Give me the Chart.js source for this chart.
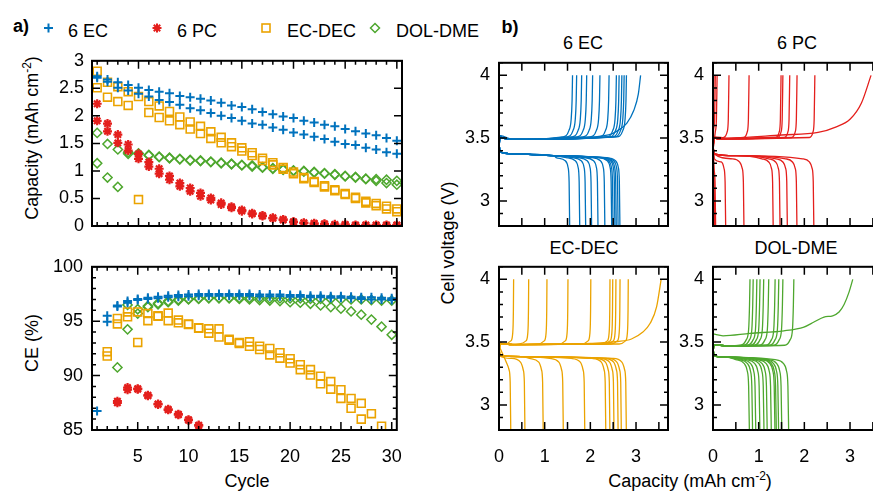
<!DOCTYPE html>
<html>
<head>
<meta charset="utf-8">
<script src="https://cdn.jsdelivr.net/npm/chart.js@4/dist/chart.umd.min.js"></script>
<style>
  body { margin: 0; width: 873px; height: 491px; overflow: hidden; background: #fff; position: relative;
         font-family: "Liberation Sans", Arial, sans-serif; }
  canvas { position: absolute; }
  .t { position: absolute; font-size: 18px; line-height: 1; white-space: nowrap; color: #000;
       transform: translate(-50%, -50%); }
  .v { transform: translate(-50%, -50%) rotate(-90deg); }
  .b { font-weight: bold; }
  sup { font-size: 12px; vertical-align: 7px; line-height: 0; }
</style>
</head>
<body>
<svg style="position:absolute;left:0;top:0" width="873" height="60">
  <g stroke="#0072bd" stroke-width="2"><line x1="44" y1="28" x2="53" y2="28"/><line x1="48.5" y1="23.5" x2="48.5" y2="32.5"/></g>
  <g stroke="#e41f1c" stroke-width="2"><line x1="152.5" y1="28" x2="161.5" y2="28"/><line x1="157" y1="23.5" x2="157" y2="32.5"/><line x1="153.8" y1="24.8" x2="160.2" y2="31.2"/><line x1="153.8" y1="31.2" x2="160.2" y2="24.8"/></g>
  <rect x="262" y="24" width="8" height="8" fill="none" stroke="#eba300" stroke-width="1.6"/>
  <path d="M375 23.5 L379.5 28 L375 32.5 L370.5 28 Z" fill="none" stroke="#4ea72e" stroke-width="1.5"/>
</svg>
<div class="t b" style="left:21px;top:26px">a)</div>
<div class="t b" style="left:510px;top:27px">b)</div>
<div class="t" style="left:68px;top:31px;transform:translate(0,-50%)">6 EC</div>
<div class="t" style="left:177px;top:31px;transform:translate(0,-50%)">6 PC</div>
<div class="t" style="left:287px;top:31px;transform:translate(0,-50%)">EC-DEC</div>
<div class="t" style="left:396px;top:31px;transform:translate(0,-50%)">DOL-DME</div>
<div class="t" style="left:583px;top:43px">6 EC</div>
<div class="t" style="left:797px;top:43px">6 PC</div>
<div class="t" style="left:584px;top:248px">EC-DEC</div>
<div class="t" style="left:796px;top:248px">DOL-DME</div>
<div class="t" style="left:247px;top:481px">Cycle</div>
<div class="t" style="left:690px;top:481px">Capacity (mAh cm<sup>-2</sup>)</div>
<div class="t v" style="left:32px;top:138px">Capacity (mAh cm<sup>-2</sup>)</div>
<div class="t v" style="left:32px;top:343px">CE (%)</div>
<div class="t v" style="left:448px;top:243px">Cell voltage (V)</div>
<script>
// ---- panel a data (two points per cycle for each cell) ----
const cycles = [1, 2, 3, 4, 5, 6, 7, 8, 9, 10, 11, 12, 13, 14, 15, 16, 17, 18, 19, 20, 21, 22, 23, 24, 25, 26, 27, 28, 29, 30];

const capEcA = [2.69, 2.66, 2.61, 2.56, 2.51, 2.47, 2.44, 2.41, 2.36, 2.34, 2.31, 2.28, 2.24, 2.19, 2.16, 2.12, 2.07, 2.03, 1.99, 1.96, 1.91, 1.88, 1.84, 1.81, 1.76, 1.72, 1.68, 1.65, 1.60, 1.55];
const capEcB = [2.72, 2.62, 2.51, 2.46, 2.40, 2.35, 2.29, 2.25, 2.20, 2.14, 2.10, 2.05, 2.00, 1.96, 1.91, 1.86, 1.84, 1.79, 1.75, 1.70, 1.66, 1.62, 1.58, 1.53, 1.49, 1.47, 1.42, 1.39, 1.34, 1.31];
const capPcA = [2.22, 1.86, 1.66, 1.48, 1.31, 1.16, 1.04, 0.91, 0.78, 0.69, 0.60, 0.51, 0.42, 0.35, 0.29, 0.23, 0.19, 0.15, 0.12, 0.08, 0.06, 0.05, 0.04, 0.03, 0.03, 0.02, 0.02, 0.02, 0.02, 0.02];
const capPcB = [1.91, 1.72, 1.51, 1.37, 1.22, 1.08, 0.95, 0.84, 0.72, 0.63, 0.54, 0.47, 0.39, 0.33, 0.27, 0.22, 0.18, 0.14, 0.11, 0.07, 0.05, 0.04, 0.03, 0.02, 0.02, 0.01, 0.01, 0.01, 0.01, 0.01];
const capEdA = [2.81, 2.61, 2.53, 2.44, 2.35, 2.26, 2.18, 2.08, 1.98, 1.89, 1.81, 1.71, 1.61, 1.51, 1.42, 1.33, 1.23, 1.15, 1.06, 0.98, 0.88, 0.81, 0.73, 0.66, 0.59, 0.52, 0.45, 0.41, 0.36, 0.31];
const capEdB = [2.51, 2.34, 2.26, 2.19, 0.48, 2.06, 1.97, 1.91, 1.84, 1.76, 1.68, 1.59, 1.51, 1.44, 1.36, 1.28, 1.19, 1.11, 1.03, 0.95, 0.86, 0.79, 0.71, 0.64, 0.57, 0.50, 0.42, 0.37, 0.31, 0.26];
const capDolA = [1.69, 1.49, 1.39, 1.34, 1.31, 1.29, 1.26, 1.24, 1.22, 1.20, 1.19, 1.17, 1.15, 1.13, 1.11, 1.10, 1.07, 1.05, 1.03, 1.01, 1.00, 0.98, 0.96, 0.94, 0.91, 0.89, 0.86, 0.85, 0.84, 0.82];
const capDolB = [1.14, 0.88, 0.71, 1.31, 1.32, 1.28, 1.25, 1.23, 1.21, 1.19, 1.18, 1.16, 1.14, 1.12, 1.10, 1.08, 1.06, 1.04, 1.02, 1.00, 0.99, 0.97, 0.95, 0.93, 0.90, 0.88, 0.85, 0.82, 0.78, 0.75];

const ceEcA = [86.75, 95.5, 96.45, 96.85, 97.05, 97.15, 97.25, 97.35, 97.4, 97.45, 97.5, 97.5, 97.5, 97.5, 97.5, 97.5, 97.45, 97.45, 97.45, 97.4, 97.4, 97.35, 97.35, 97.3, 97.3, 97.25, 97.2, 97.2, 97.15, 97.1];
const ceEcB = [null, 94.95, 96.35, 96.7, 96.95, 97.05, 97.1, 97.2, 97.25, 97.3, 97.35, 97.35, 97.35, 97.35, 97.35, 97.35, 97.3, 97.3, 97.3, 97.25, 97.25, 97.2, 97.2, 97.15, 97.15, 97.1, 97.05, 97.0, 97.0, 96.95];
const cePcA = [null, null, 87.5, 88.9, 88.75, 88.15, 87.35, 86.85, 86.4, 85.9, 85.4, null, null, null, null, null, null, null, null, null, null, null, null, null, null, null, null, null, null, null];
const cePcB = [null, null, 87.65, 88.7, 88.8, 88.2, 87.4, 86.9, 86.45, 85.95, 85.45, null, null, null, null, null, null, null, null, null, null, null, null, null, null, null, null, null, null, null];
const ceEdA = [null, 92.2, 95.25, 95.85, 95.85, 95.7, 95.5, 95.75, 95.1, 94.75, 94.4, 94.3, 94.3, 93.35, 93.05, 93.1, 92.7, 92.5, 92.1, 91.55, 91.0, 90.55, 89.95, 89.45, 88.7, 87.9, 87.45, 86.5, 85.35, null];
const ceEdB = [null, 91.8, 94.75, 95.4, 93.05, 95.05, 95.45, 95.05, 94.85, 94.7, 94.35, 93.9, 93.55, 93.25, 92.95, 92.7, 92.4, 91.9, 91.6, 91.15, 90.55, 90.05, 89.25, 88.75, 87.9, 87.0, 86.0, null, null, null];
const ceDolA = [null, null, 90.75, 94.25, 95.7, 96.3, 96.55, 96.75, 96.9, 97.0, 97.05, 97.1, 97.1, 97.1, 97.05, 97.0, 96.95, 96.9, 96.85, 96.75, 96.7, 96.6, 96.45, 96.3, 96.15, 95.9, 95.6, 95.15, 94.5, 93.75];
const ceDolB = [null, null, null, 96.5, 96.1, 96.4, 96.65, 96.85, 97.0, 97.05, 97.1, 97.15, 97.15, 97.15, 97.15, 97.15, 97.15, 97.1, 97.1, 97.1, 97.1, 97.05, 97.05, 97.05, 97.0, 97.0, 97.0, 96.95, 96.9, 96.9];

// ---- panel b data: capacity where each charge reaches 4 V / each discharge falls off ----
const ecChargeEnd = [1.61, 1.70, 1.81, 1.92, 2.05, 2.21, 2.41, 2.57, 2.63, 2.69, 2.74, 2.79];
const ecDischargeEnd = [1.55, 1.77, 1.90, 2.03, 2.17, 2.32, 2.47, 2.50, 2.54, 2.57, 2.61, 2.65];
const ecFirstCharge = [[0, 3.42], [0.03, 3.52], [0.3, 3.49], [1.5, 3.50], [2.4, 3.525], [2.6, 3.56], [2.8, 3.62], [2.95, 3.72], [3.05, 3.85], [3.10, 4.0]];

const pcChargeEnd = [0.02, 0.05, 0.09, 0.35, 0.79, 1.49, 1.53, 1.68, 1.84, 2.23];
const pcDischargeEnd = [0.02, 0.04, 0.06, 0.28, 0.68, 1.32, 1.47, 1.63, 1.84, 2.21];
const pcFirstCharge = [[0, 3.40], [0.03, 3.51], [0.3, 3.50], [1.5, 3.525], [2.3, 3.545], [2.7, 3.59], [3.0, 3.65], [3.25, 3.78], [3.46, 4.0]];

const edChargeEnd = [0.32, 0.65, 1.05, 1.51, 2.01, 2.43, 2.49, 2.56, 2.65, 2.83];
const edDischargeEnd = [0.26, 0.57, 0.97, 1.41, 1.88, 2.34, 2.43, 2.52, 2.61, 2.68, 2.79];
const edFirstCharge = [[0, 3.40], [0.03, 3.49], [0.5, 3.48], [2.0, 3.49], [2.6, 3.505], [2.9, 3.525], [3.15, 3.58], [3.31, 3.65], [3.45, 3.78], [3.55, 4.0]];

const dolChargeEnd = [0.81, 0.88, 0.96, 1.03, 1.11, 1.22, 1.36, 1.44, 1.53, 1.77];
const dolDischargeEnd = [0.80, 0.87, 0.94, 1.03, 1.12, 1.19, 1.28, 1.36, 1.39, 1.44, 1.51, 1.66];
const dolFirstCharge = [[0, 3.565], [0.22, 3.55], [0.81, 3.57], [1.55, 3.59], [1.99, 3.62], [2.21, 3.66], [2.43, 3.70], [2.62, 3.71], [2.76, 3.74], [2.87, 3.80], [2.98, 3.90], [3.06, 4.0]];

// curve shapes: start of the curve, and the end relative to where it stops
const shapes = {
  ec:  { cs: [[0, 3.40], [0.02, 3.52], [0.08, 3.50], [0.4, 3.49]], ck: [[-0.22, 3.51], [-0.08, 3.56], [-0.03, 3.65], [-0.01, 3.8], [0, 4.0]],
         ds: [[0, 3.48], [0.02, 3.39], [0.3, 3.375], [1.2, 3.36]], dk: [[-0.3, 3.345], [-0.1, 3.32], [-0.04, 3.27], [-0.015, 3.15], [0, 2.7]] },
  pc:  { cs: [[0, 3.40], [0.02, 3.50], [0.1, 3.495]], ck: [[-0.12, 3.505], [-0.04, 3.55], [-0.015, 3.65], [0, 4.0]],
         ds: [[0, 3.46], [0.02, 3.375], [0.5, 3.36]], dk: [[-0.25, 3.335], [-0.1, 3.31], [-0.04, 3.26], [-0.015, 3.15], [0, 2.7]] },
  ed:  { cs: [[0, 3.40], [0.02, 3.49], [0.3, 3.48]], ck: [[-0.2, 3.485], [-0.06, 3.51], [-0.02, 3.57], [-0.005, 3.75], [0, 4.0]],
         ds: [[0, 3.47], [0.02, 3.39], [0.5, 3.385]], dk: [[-0.3, 3.37], [-0.1, 3.34], [-0.04, 3.28], [-0.015, 3.18], [0, 2.7]] },
  dol: { cs: [[0, 3.40], [0.02, 3.48], [0.3, 3.47]], ck: [[-0.2, 3.475], [-0.08, 3.52], [-0.03, 3.6], [-0.01, 3.8], [0, 4.0]],
         ds: [[0, 3.47], [0.02, 3.39], [0.3, 3.38]], dk: [[-0.3, 3.36], [-0.12, 3.33], [-0.05, 3.27], [-0.02, 3.15], [0, 2.7]] },
};

const BLUE = '#0072bd', RED = '#e41f1c', ORANGE = '#eba300', GREEN = '#4ea72e';

Chart.defaults.font.family = "'Liberation Sans', Arial, sans-serif";
Chart.defaults.font.size = 18;
Chart.defaults.color = '#000';

// box with inward ticks on all four sides (gnuplot style)
const frame = {
  id: 'frame',
  afterDatasetsDraw(chart, args, o) {
    const { ctx, chartArea: a, scales: { x, y } } = chart;
    ctx.save();
    ctx.strokeStyle = '#000';
    ctx.lineWidth = 1.5;
    ctx.beginPath();
    const tick = (vals, len, horiz) => vals.forEach(v => {
      if (horiz) {
        const p = x.getPixelForValue(v);
        ctx.moveTo(p, a.bottom); ctx.lineTo(p, a.bottom - len);
        ctx.moveTo(p, a.top); ctx.lineTo(p, a.top + len);
      } else {
        const p = y.getPixelForValue(v);
        ctx.moveTo(a.left, p); ctx.lineTo(a.left + len, p);
        ctx.moveTo(a.right, p); ctx.lineTo(a.right - len, p);
      }
    });
    tick(o.xMajor || [], 8, true); tick(o.xMinor || [], 4, true);
    tick(o.yMajor || [], 8, false); tick(o.yMinor || [], 4, false);
    ctx.stroke();
    ctx.lineWidth = 2;
    ctx.strokeRect(a.left, a.top, a.right - a.left, a.bottom - a.top);
    ctx.restore();
  }
};

const L = 70, R = 16, T = 14, B = 45;
function panel(area, type, datasets, xs, ys, marks) {
  const cv = document.createElement('canvas');
  const w = area[2] - area[0] + L + R, h = area[3] - area[1] + T + B;
  cv.width = w; cv.height = h;
  cv.style.left = (area[0] - L) + 'px'; cv.style.top = (area[1] - T) + 'px';
  cv.style.width = w + 'px'; cv.style.height = h + 'px';
  document.body.appendChild(cv);
  const axis = (s, fit) => ({
    type: 'linear', min: s.min, max: s.max,
    grid: { display: false, drawTicks: false }, border: { display: false },
    afterBuildTicks: sc => { sc.ticks = s.ticks.map(v => ({ value: v })); },
    afterFit: fit,
    ticks: { display: s.labels !== false, padding: s.pad, autoSkip: false, maxRotation: 0, callback: v => String(v) },
  });
  return new Chart(cv, {
    type: type,
    data: { datasets: datasets },
    plugins: [frame],
    options: {
      responsive: false, animation: false, devicePixelRatio: 1,
      layout: { padding: { left: 0, right: R, top: T, bottom: 0 } },
      plugins: { legend: { display: false }, tooltip: { enabled: false }, frame: marks },
      scales: {
        x: axis(xs, sc => { sc.height = B; }),
        y: axis(ys, sc => { sc.width = L; }),
      },
    },
  });
}

const range = (a, b, s) => { const r = []; for (let v = a; v <= b + 1e-9; v += s) r.push(+v.toFixed(3)); return r; };

// ---- panel a ----
const mk = {
  ec:  { pointStyle: 'cross', r: 4.5, w: 2, c: BLUE },
  pc:  { pointStyle: 'star', r: 4.5, w: 2.2, c: RED },
  ed:  { pointStyle: 'rect', r: 5.6, w: 1.6, c: ORANGE },
  dol: { pointStyle: 'rectRot', r: 4.6, w: 1.5, c: GREEN },
};
function scat(vals, m) {
  return {
    data: cycles.map((c, i) => ({ x: c, y: vals[i] })),
    showLine: false, pointStyle: m.pointStyle, pointRadius: m.r, pointBorderWidth: m.w,
    pointBorderColor: m.c, pointBackgroundColor: 'rgba(0,0,0,0)',
  };
}
const cycMarks = { xMajor: range(5, 30, 5), xMinor: range(1, 30, 1) };

panel([92, 56, 402, 226], 'scatter', [
  scat(capEcA, mk.ec), scat(capEcB, mk.ec), scat(capPcA, mk.pc), scat(capPcB, mk.pc),
  scat(capEdA, mk.ed), scat(capEdB, mk.ed), scat(capDolA, mk.dol), scat(capDolB, mk.dol),
], { min: 0.5, max: 30.5, ticks: range(5, 30, 5), labels: false, pad: 16 },
   { min: 0, max: 3, ticks: range(0, 3, 0.5), pad: 8 },
   Object.assign({ yMajor: range(0, 3, 0.5) }, cycMarks));

panel([92, 261, 402, 430], 'scatter', [
  scat(ceEcA, mk.ec), scat(ceEcB, mk.ec), scat(cePcA, mk.pc), scat(cePcB, mk.pc),
  scat(ceEdA, mk.ed), scat(ceEdB, mk.ed), scat(ceDolA, mk.dol), scat(ceDolB, mk.dol),
], { min: 0.5, max: 30.5, ticks: range(5, 30, 5), pad: 16 },
   { min: 85, max: 100, ticks: range(85, 100, 5), pad: 9 },
   Object.assign({ yMajor: range(85, 100, 5), yMinor: range(85, 100, 1) }, cycMarks));

// ---- panel b ----
function curve(end, start, knee) {
  const pts = [];
  const kneeStart = end + knee[0][0];
  start.forEach(([x, v]) => { if (x === 0 || x < kneeStart) pts.push({ x: x, y: v }); });
  knee.forEach(([dx, v]) => {
    const x = end + dx;
    if (x > pts[pts.length - 1].x) pts.push({ x: x, y: v });
  });
  return pts;
}
function line(pts, color) {
  return { data: pts, borderColor: color, borderWidth: 1.3, pointRadius: 0, fill: false,
           cubicInterpolationMode: 'monotone' };
}
function voltPanel(area, color, sh, chargeEnd, dischargeEnd, first, xLabels) {
  const ds = [];
  chargeEnd.forEach(e => ds.push(line(curve(e, sh.cs, sh.ck), color)));
  ds.push(line(first.map(([x, v]) => ({ x: x, y: v })), color));
  dischargeEnd.forEach(e => ds.push(line(curve(e, sh.ds, sh.dk), color)));
  panel(area, 'line', ds,
    { min: 0, max: 3.7, ticks: [0, 1, 2, 3], labels: xLabels, pad: 16 },
    { min: 2.8, max: 4.1, ticks: [3, 3.5, 4], pad: 9 },
    { xMajor: range(0, 3.5, 0.5), yMajor: [3, 3.5, 4], yMinor: range(2.8, 4.1, 0.1) });
}

voltPanel([499, 57, 668, 226], BLUE, shapes.ec, ecChargeEnd, ecDischargeEnd, ecFirstCharge, false);
voltPanel([713, 57, 882, 226], RED, shapes.pc, pcChargeEnd, pcDischargeEnd, pcFirstCharge, false);
voltPanel([499, 261, 668, 430], ORANGE, shapes.ed, edChargeEnd, edDischargeEnd, edFirstCharge, true);
voltPanel([713, 261, 882, 430], GREEN, shapes.dol, dolChargeEnd, dolDischargeEnd, dolFirstCharge, true);
</script>
</body>
</html>
